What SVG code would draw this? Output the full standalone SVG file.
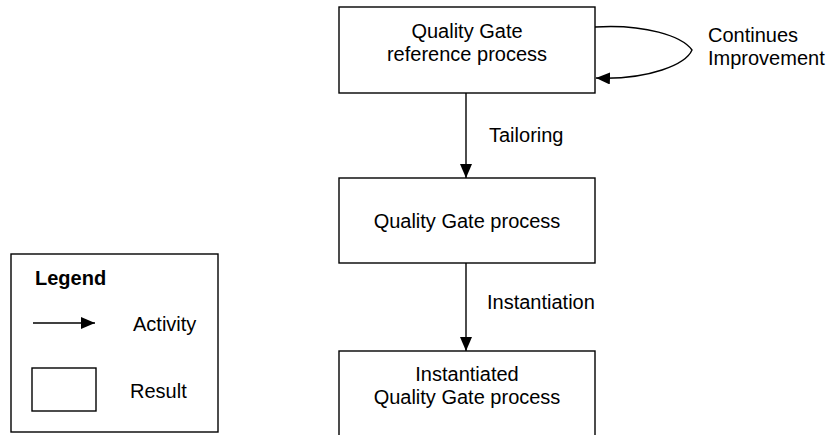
<svg xmlns="http://www.w3.org/2000/svg" width="835" height="435" viewBox="0 0 835 435">
<defs>
<marker id="ah" markerWidth="14" markerHeight="12" refX="14" refY="6" orient="auto" markerUnits="userSpaceOnUse">
<path d="M0,0 L14,6 L0,12 Z" fill="#000"/>
</marker>
<style>
.box{fill:#fff;stroke:#000;stroke-width:1.4}
.t{font-family:"Liberation Sans",Arial,sans-serif;font-size:20px;fill:#000}
.c{text-anchor:middle}
.b{font-weight:bold}
.ln{fill:none;stroke:#000;stroke-width:1.4}
</style>
</defs>
<rect width="835" height="435" fill="#fff"/>
<g id="connectors">
<line class="ln" x1="466" y1="93" x2="466" y2="178" marker-end="url(#ah)"/>
<line class="ln" x1="466" y1="263" x2="466" y2="351" marker-end="url(#ah)"/>
<path class="ln" d="M595,27 C645,24 682,36 692,50 C686,64 650,80 596,78" marker-end="url(#ah)"/>
<text class="t" x="489" y="142">Tailoring</text>
<text class="t" x="487" y="309">Instantiation</text>
<text class="t" x="708" y="42">Continues</text>
<text class="t" x="708" y="65">Improvement</text>
</g>
<g id="node-reference">
<rect class="box" x="339" y="7" width="256" height="86"/>
<text class="t c" x="467" y="38">Quality Gate</text>
<text class="t c" x="467" y="61">reference process</text>
</g>
<g id="node-process">
<rect class="box" x="339" y="178" width="256" height="85"/>
<text class="t c" x="467" y="228">Quality Gate process</text>
</g>
<g id="node-instantiated">
<rect class="box" x="339" y="351" width="256" height="100"/>
<text class="t c" x="467" y="381">Instantiated</text>
<text class="t c" x="467" y="404">Quality Gate process</text>
</g>
<g id="legend">
<rect class="box" x="11" y="254" width="207" height="178"/>
<text class="t b" x="35" y="285">Legend</text>
<line class="ln" x1="33" y1="323" x2="95" y2="323" marker-end="url(#ah)"/>
<text class="t" x="133" y="331">Activity</text>
<rect class="box" x="32" y="368" width="64" height="43"/>
<text class="t" x="130" y="398">Result</text>
</g>
</svg>
